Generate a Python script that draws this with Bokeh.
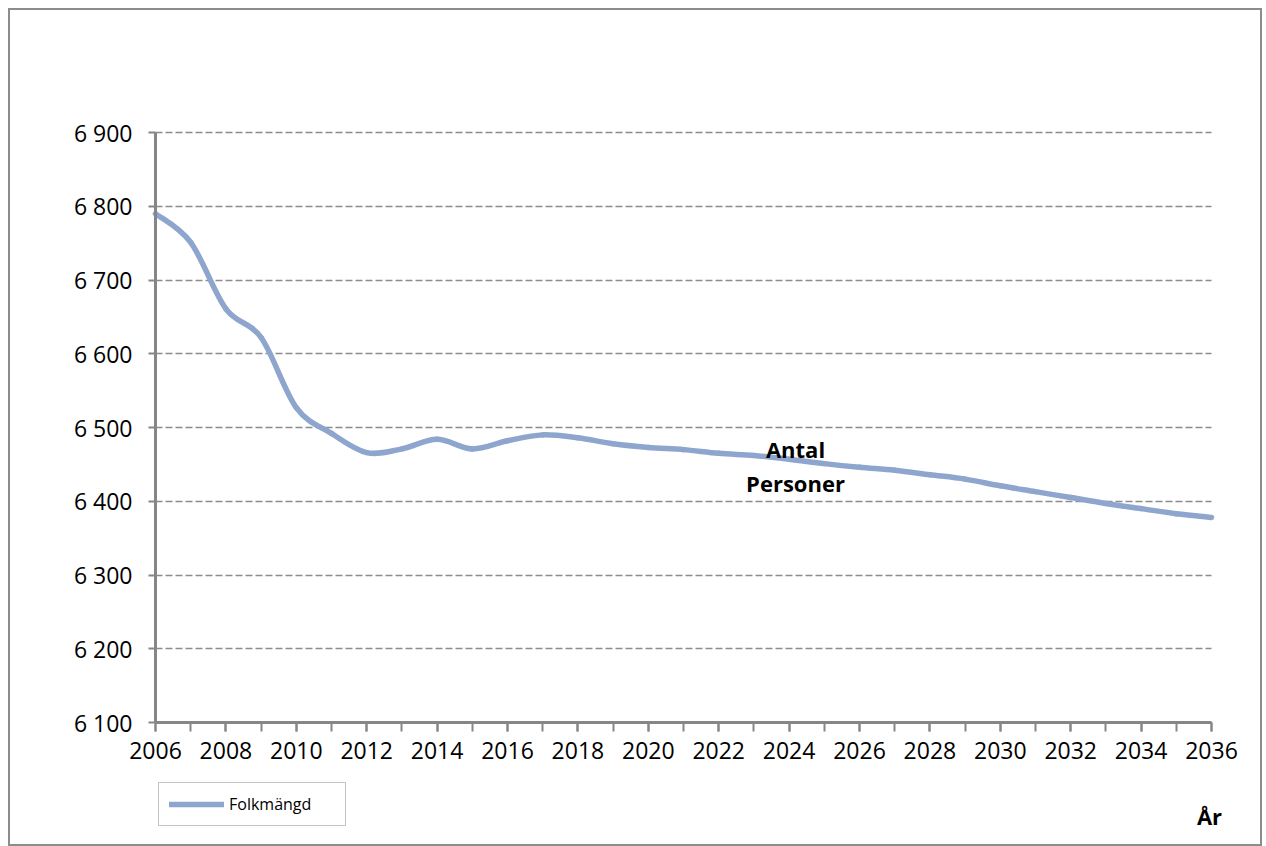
from bokeh.plotting import figure
from bokeh.models import FixedTicker, Range1d, Label, Legend, LegendItem
from bokeh.embed import file_html
from bokeh.resources import INLINE

years = list(range(2006, 2037))
folkmangd = [6790, 6751, 6661, 6622, 6527, 6492, 6466, 6471, 6484, 6471,
             6482, 6490, 6486, 6478, 6473, 6470, 6465, 6462, 6457, 6451,
             6446, 6442, 6436, 6430, 6421, 6413, 6405, 6397, 6390, 6383, 6378]
x_tick_years = list(range(2006, 2037, 2))
y_ticks = [6100, 6200, 6300, 6400, 6500, 6600, 6700, 6800, 6900]
y_tick_labels = ["6 100", "6 200", "6 300", "6 400", "6 500", "6 600", "6 700", "6 800", "6 900"]

LINE_COLOR = "#8EA6CE"
GRAY = "#868686"
FONT = "Open Sans"

X_MIN, X_MAX = years[0], years[-1]
Y_MIN, Y_MAX = y_ticks[0], y_ticks[-1]

# layout (page pixels): the frame fills the whole bordered box, the plot area sits inside it
FRAME_W, FRAME_H = 1250, 834
FRAME_LEFT, FRAME_TOP = 10, 10
AREA_LEFT, AREA_RIGHT, AREA_TOP, AREA_BOTTOM = 155, 1211, 132, 722
px_x = (AREA_RIGHT - AREA_LEFT) / (X_MAX - X_MIN)
px_y = (AREA_BOTTOM - AREA_TOP) / (Y_MAX - Y_MIN)
x_start = X_MIN - (AREA_LEFT - FRAME_LEFT) / px_x
x_end = X_MIN + (FRAME_LEFT + FRAME_W - AREA_LEFT) / px_x
y_end = Y_MAX + (AREA_TOP - FRAME_TOP) / px_y
y_start = Y_MAX - (FRAME_TOP + FRAME_H - AREA_TOP) / px_y

p = figure(frame_width=FRAME_W, frame_height=FRAME_H, output_backend="svg", toolbar_location=None,
           x_range=Range1d(x_start, x_end), y_range=Range1d(y_start, y_end),
           min_border_left=0, min_border_right=0, min_border_top=0, min_border_bottom=0,
           background_fill_color="white", border_fill_color="white")
p.styles = {"border": "2px solid #8c8c8c", "margin-left": "8px", "margin-top": "8px"}
p.outline_line_color = None

# smoothed line (Catmull-Rom converted to cubic Bezier, like Excel's smoothing)
n = len(years)
x0, y0, x1, y1, cx0, cy0, cx1, cy1 = [], [], [], [], [], [], [], []
for i in range(n - 1):
    xa, ya = years[i], folkmangd[i]
    xb, yb = years[i + 1], folkmangd[i + 1]
    xp, yp = (years[i - 1], folkmangd[i - 1]) if i > 0 else (xa, ya)
    xn, yn = (years[i + 2], folkmangd[i + 2]) if i + 2 < n else (xb, yb)
    x0.append(xa); y0.append(ya); x1.append(xb); y1.append(yb)
    cx0.append(xa + (xb - xp) / 6.0); cy0.append(ya + (yb - yp) / 6.0)
    cx1.append(xb - (xn - xa) / 6.0); cy1.append(yb - (yn - ya) / 6.0)
curve = p.bezier(x0=x0, y0=y0, x1=x1, y1=y1, cx0=cx0, cy0=cy0, cx1=cx1, cy1=cy1,
                 line_color=LINE_COLOR, line_width=5.5, line_cap="round")

# axes, drawn at the plot-area edges
p.xaxis.ticker = FixedTicker(ticks=x_tick_years, minor_ticks=years)
p.xaxis.fixed_location = Y_MIN
p.xaxis.bounds = (X_MIN, X_MAX)
p.yaxis.ticker = FixedTicker(ticks=y_ticks)
p.yaxis.fixed_location = X_MIN
p.yaxis.bounds = (Y_MIN, Y_MAX)
p.yaxis.major_label_overrides = {t: l for t, l in zip(y_ticks, y_tick_labels)}
for ax in (p.xaxis, p.yaxis):
    ax.axis_line_color = GRAY
    ax.axis_line_width = 3
    ax.major_tick_line_color = GRAY
    ax.major_tick_line_width = 2
    ax.minor_tick_line_color = GRAY
    ax.minor_tick_line_width = 2
    ax.major_tick_in = 0
    ax.minor_tick_in = 0
    ax.major_label_text_font = FONT
    ax.major_label_text_font_size = "23px"
    ax.major_label_text_color = "black"
p.xaxis.major_tick_out = 9
p.xaxis.minor_tick_out = 9
p.yaxis.major_tick_out = 7
p.yaxis.minor_tick_out = 0
p.xaxis.major_label_standoff = 10
p.yaxis.major_label_standoff = 16

p.xgrid.grid_line_color = None
p.ygrid.bounds = (Y_MIN, Y_MAX)
p.ygrid.cross_bounds = (X_MIN, X_MAX)
p.ygrid.grid_line_color = "#8c8c8c"
p.ygrid.grid_line_width = 1.5
p.ygrid.grid_line_dash = "7 3"

# texts in screen px, measured from the frame's bottom-left corner
for txt, yy in (("Antal", 396), ("Personer", 362)):
    p.add_layout(Label(x=785, y=yy, x_units="screen", y_units="screen", text=txt,
                       text_font=FONT, text_font_size="22px", text_font_style="bold",
                       text_align="center", text_baseline="middle", text_color="black"))
p.add_layout(Label(x=1199, y=29, x_units="screen", y_units="screen", text="År",
                   text_font=FONT, text_font_size="22px", text_font_style="bold",
                   text_align="center", text_baseline="middle", text_color="black"))

legend = Legend(items=[LegendItem(label="Folkmängd", renderers=[curve])],
                location=(148, 18), orientation="vertical",
                border_line_color="#8c8c8c", border_line_width=1.5,
                label_text_font=FONT, label_text_font_size="16px", label_text_color="black",
                label_height=18,
                glyph_width=55, glyph_height=16, label_standoff=5, label_width=106,
                padding=10, spacing=0, margin=0, background_fill_alpha=1)
p.add_layout(legend, "center")

open("out.html", "w").write(file_html(p, INLINE))
